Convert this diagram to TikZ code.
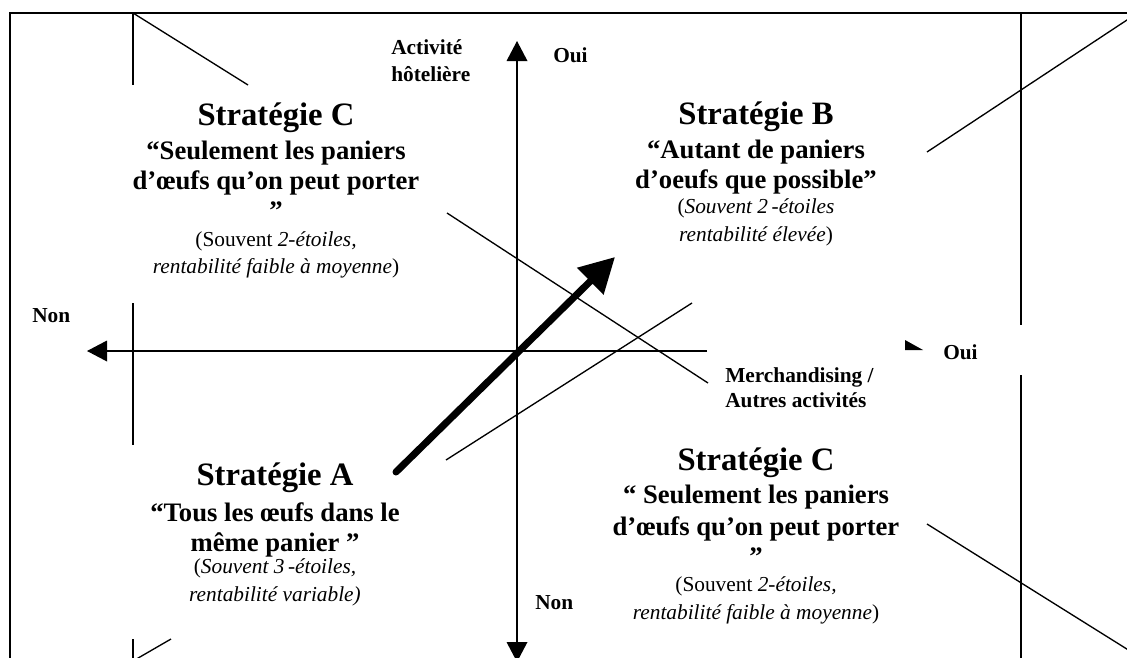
\documentclass[tikz,border=0pt]{standalone}
\usepackage{fontspec}
\setmainfont{Liberation Serif}
\usetikzlibrary{arrows.meta}
\tikzset{axhead/.tip={Triangle[length=15pt,width=15.5pt]}}
\begin{document}
\begin{tikzpicture}[x=0.75pt,y=-0.75pt,
  frame/.style={line width=1.5pt},
  guide/.style={line width=1pt},
  axis/.style={line width=1pt},
  bigarrow/.style={line width=5.25pt, line cap=round, -{Triangle[length=26pt,width=27pt]}},
  head/.style={font=\fontsize{24.5}{29}\selectfont\bfseries, anchor=base, inner sep=0pt},
  quote/.style={font=\fontsize{20}{24}\selectfont\bfseries, anchor=base, inner sep=0pt},
  note/.style={font=\fontsize{16}{19}\selectfont, anchor=base, inner sep=0pt},
  lab/.style={font=\fontsize{16}{19}\selectfont\bfseries, anchor=base west, inner sep=0pt}]
\useasboundingbox (0,0) rectangle (1127,657);
\clip (0,0) rectangle (1127,657);

% outer frame (left and top)
\draw[frame] (10,660) -- (10,13) -- (1130,13);

% left guide line
\draw[guide] (133,13) -- (133,85);
\draw[guide] (133,303) -- (133,445);
\draw[guide] (133,639) -- (133,660);
% right guide line
\draw[guide] (1021,13) -- (1021,325);
\draw[guide] (1021,375) -- (1021,660);

% slanted strokes
\draw[guide] (133,13) -- (248,85);
\draw[guide] (133,661) -- (171,639);
\draw[guide] (1130,18) -- (927,152);
\draw[guide] (927,524) -- (1130,651);
\draw[guide] (447,213) -- (708,383);
\draw[guide] (446,460) -- (692,303);

% axes
\coordinate (yTop) at (517,41);
\coordinate (yBot) at (517,662);
\coordinate (xLeft) at (87,351);
\coordinate (xRight) at (707,351);
\draw[axis, axhead-axhead] (yBot) -- (yTop);
\draw[axis, -axhead] (xRight) -- (xLeft);
% partial arrow tip on the right
\fill (905,340) -- (905,350) -- (923,350) -- cycle;

% growth arrow
\coordinate (gStart) at (396,472);
\coordinate (gEnd) at (615,257);
\draw[bigarrow] (gStart) -- (gEnd);

% axis labels
\node[lab] (actA) at (391,54) {Activité};
\node[lab] (actB) at (391,81) {hôtelière};
\node[lab] (ouiTop) at (553,62) {Oui};
\node[lab] (nonLeft) at (32,322) {Non};
\node[lab] (ouiRight) at (943,359) {Oui};
\node[lab] (merchA) at (725,382) {Merchandising /};
\node[lab] (merchB) at (725,407) {Autres activités};
\node[lab] (nonBot) at (535,609) {Non};

% quadrant: top left
\node[head] (tlH) at (276,125) {Stratégie C};
\node[quote] (tlQ1) at (276,159) {“Seulement les paniers};
\node[quote] (tlQ2) at (276,189) {d’œufs qu’on peut porter};
\node[quote] (tlQ3) at (276,219) {”};
\node[note] (tlN1) at (276,246) {(Souvent \textit{2-étoiles,}};
\node[note] (tlN2) at (276,273) {\textit{rentabilité faible à moyenne})};

% quadrant: top right
\node[head] (trH) at (756,124) {Stratégie B};
\node[quote] (trQ1) at (756,158) {“Autant de paniers};
\node[quote] (trQ2) at (756,188) {d’oeufs que possible”};
\node[note] (trN1) at (756,213) {(\textit{Souvent 2\,-étoiles}};
\node[note] (trN2) at (756,241) {\textit{rentabilité élevée})};

% quadrant: bottom left
\node[head] (blH) at (275,485) {Stratégie A};
\node[quote] (blQ1) at (275,521) {“Tous les œufs dans le};
\node[quote] (blQ2) at (275,551) {même panier ”};
\node[note] (blN1) at (275,573) {(\textit{Souvent 3\,-étoiles,}};
\node[note] (blN2) at (275,601) {\textit{rentabilité variable)}};

% quadrant: bottom right
\node[head] (brH) at (756,470) {Stratégie C};
\node[quote] (brQ1) at (756,503) {“ Seulement les paniers};
\node[quote] (brQ2) at (756,535) {d’œufs qu’on peut porter};
\node[quote] (brQ3) at (756,565) {”};
\node[note] (brN1) at (756,591) {(Souvent \textit{2-étoiles,}};
\node[note] (brN2) at (756,619) {\textit{rentabilité faible à moyenne})};
\end{tikzpicture}
\end{document}
